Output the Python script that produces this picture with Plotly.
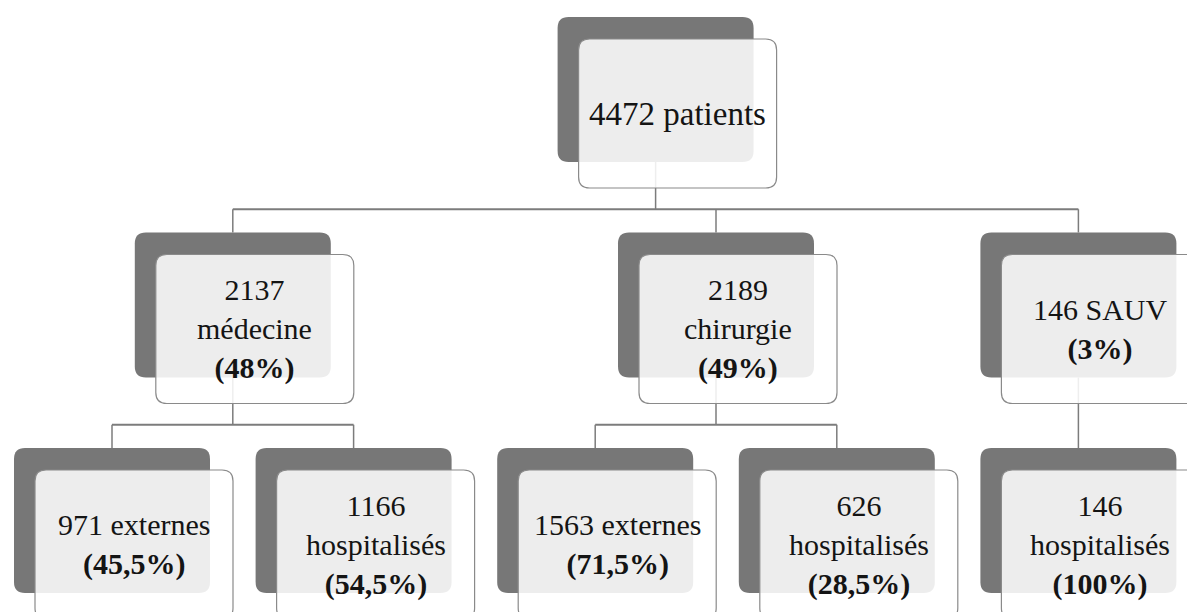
import plotly.graph_objects as go

# ---- data ----
node_ids = ["total", "med", "chir", "sauv", "med_ext", "med_hosp", "chir_ext", "chir_hosp", "sauv_hosp"]
parents = [None, "total", "total", "total", "med", "med", "chir", "chir", "sauv"]
counts = [4472, 2137, 2189, 146, 971, 1166, 1563, 626, 146]
labels = ["patients", "médecine", "chirurgie", "SAUV", "externes", "hospitalisés", "externes", "hospitalisés", "hospitalisés"]
percents = [None, "48%", "49%", "3%", "45,5%", "54,5%", "71,5%", "28,5%", "100%"]
break_after_count = [False, True, True, False, False, True, False, True, True]

# ---- layout constants ----
W, H = 1187, 612
LEAF_X0, LEAF_PITCH = 112, 241.6
TOP0, LEVEL_STEP = 17, 215.5
DW, DH = 196, 145          # dark box size
OX, OY = 21, 22            # light box offset
LW, LH = 198, 149          # light box size
R = 11
DARK = "#777777"
LINE = "#7c7c7c"

children = {n: [] for n in node_ids}
for n, p in zip(node_ids, parents):
    if p is not None:
        children[p].append(n)

depth = {}
def set_depth(n, d):
    depth[n] = d
    for c in children[n]:
        set_depth(c, d + 1)
set_depth("total", 0)

cx = {}
leaf_counter = [0]
def place(n):
    if not children[n]:
        cx[n] = LEAF_X0 + leaf_counter[0] * LEAF_PITCH
        leaf_counter[0] += 1
    else:
        for c in children[n]:
            place(c)
        cx[n] = (cx[children[n][0]] + cx[children[n][-1]]) / 2
place("total")

def top(n):
    return TOP0 + depth[n] * LEVEL_STEP

def rounded(x0, y0, x1, y1, r):
    return (f"M {x0+r},{y0} L {x1-r},{y0} Q {x1},{y0} {x1},{y0+r} "
            f"L {x1},{y1-r} Q {x1},{y1} {x1-r},{y1} L {x0+r},{y1} "
            f"Q {x0},{y1} {x0},{y1-r} L {x0},{y0+r} Q {x0},{y0} {x0+r},{y0} Z")

shapes = []
# dark boxes
for n in node_ids:
    x0 = cx[n] - DW / 2
    y0 = top(n)
    shapes.append(dict(type="path", xref="x", yref="y",
                       path=rounded(x0, y0, x0 + DW, y0 + DH, R),
                       fillcolor=DARK, line=dict(width=0)))
# connectors
for n in node_ids:
    ch = children[n]
    if not ch:
        continue
    pb = top(n) + DH
    ct = top(ch[0])
    bus = pb + 0.67 * (ct - pb)
    if len(ch) == 1:
        shapes.append(dict(type="line", xref="x", yref="y", x0=cx[n], x1=cx[n], y0=pb, y1=ct,
                           line=dict(color=LINE, width=1.5)))
        continue
    shapes.append(dict(type="line", xref="x", yref="y", x0=cx[n], x1=cx[n], y0=pb, y1=bus,
                       line=dict(color=LINE, width=1.5)))
    shapes.append(dict(type="line", xref="x", yref="y", x0=cx[ch[0]], x1=cx[ch[-1]], y0=bus, y1=bus,
                       line=dict(color=LINE, width=1.8)))
    for c in ch:
        shapes.append(dict(type="line", xref="x", yref="y", x0=cx[c], x1=cx[c], y0=bus, y1=ct,
                           line=dict(color=LINE, width=1.5)))
# light boxes
for n in node_ids:
    x0 = cx[n] - DW / 2 + OX
    y0 = top(n) + OY
    shapes.append(dict(type="path", xref="x", yref="y",
                       path=rounded(x0, y0, x0 + LW, y0 + LH, R),
                       fillcolor="rgba(255,255,255,0.87)", line=dict(color="#8a8a8a", width=1.2)))

annotations = []
for n, c, lab, pct, br in zip(node_ids, counts, labels, percents, break_after_count):
    txt = f"{c}<br>{lab}" if br else f"{c} {lab}"
    if pct is not None:
        txt += f"<br><b>({pct})</b>"
    size = 33 if depth[n] == 0 else 30
    annotations.append(dict(x=cx[n] - DW / 2 + OX + LW / 2, y=top(n) + OY + LH / 2,
                            xref="x", yref="y", text=txt, showarrow=False, align="center",
                            font=dict(family="Liberation Serif, Times New Roman, serif", size=size, color="#141414")))

fig = go.Figure()
fig.add_trace(go.Scatter(x=[cx[n] for n in node_ids], y=[top(n) for n in node_ids],
                         mode="markers", marker=dict(opacity=0), hoverinfo="skip", showlegend=False))
fig.update_layout(
    width=W, height=H, autosize=False,
    margin=dict(l=0, r=0, t=0, b=0),
    paper_bgcolor="white", plot_bgcolor="white",
    xaxis=dict(range=[0, W], visible=False, fixedrange=True),
    yaxis=dict(range=[H, 0], visible=False, fixedrange=True),
    shapes=shapes, annotations=annotations, showlegend=False,
)
fig.write_html("out.html", config=dict(displayModeBar=False),
               post_script="document.body.style.margin='0';document.body.style.overflow='hidden';")
